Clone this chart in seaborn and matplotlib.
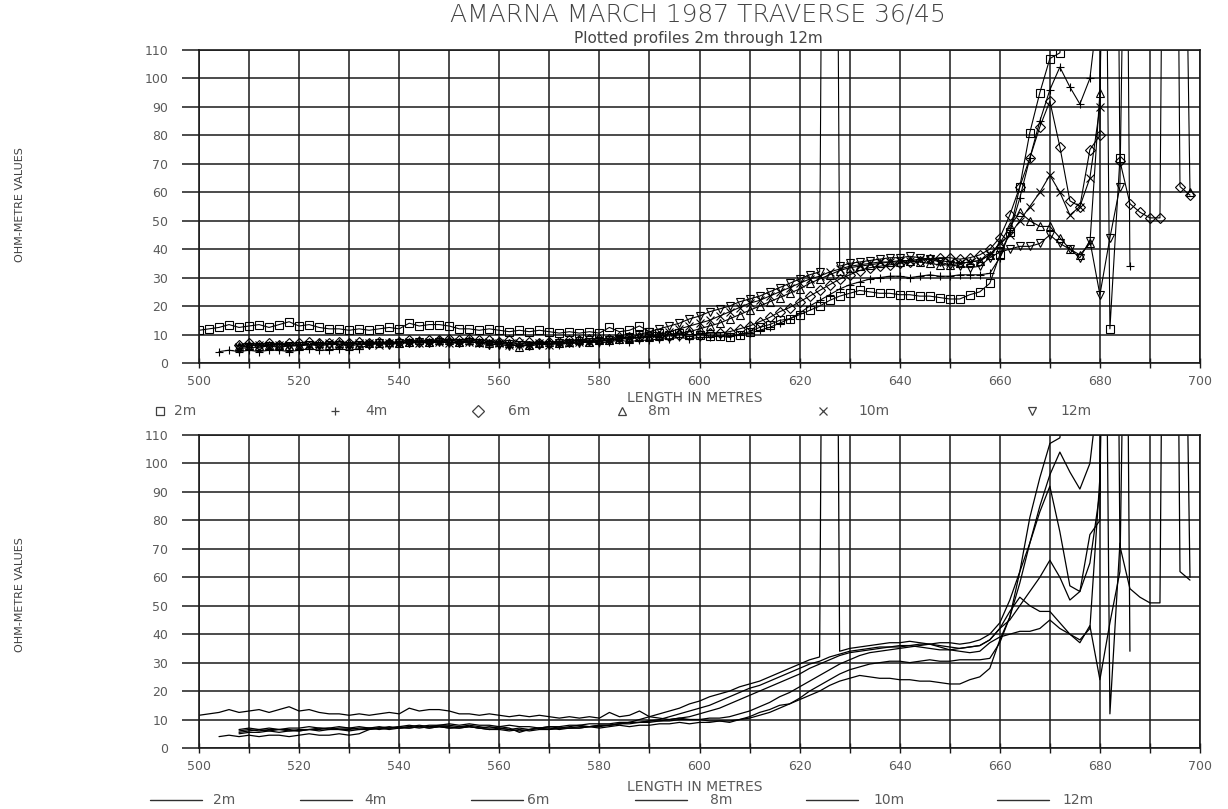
import numpy as np
import pandas as pd
import matplotlib
matplotlib.use("Agg")
import matplotlib.pyplot as plt
import seaborn as sns
from matplotlib.lines import Line2D

sns.set_theme(style="white")
plt.rcParams['font.family'] = ['DejaVu Sans']

# ---------------- text ----------------
TITLE = "AMARNA MARCH 1987 TRAVERSE 36/45"
SUBTITLE = "Plotted profiles 2m through 12m"
X_LABEL = "LENGTH IN METRES"
Y_LABEL = "OHM-METRE VALUES"
X_TICKS = [500, 520, 540, 560, 580, 600, 620, 640, 660, 680, 700]
Y_TICKS = [0, 10, 20, 30, 40, 50, 60, 70, 80, 90, 100, 110]
SERIES = ["2m", "4m", "6m", "8m", "10m", "12m"]
MARKERS = ["s", "+", "D", "^", "x", "v"]

# ---------------- data (sampled every STEP metres) ----------------
STEP = 2
start_2m = 500
vals_2m = [11.5, 12, 12.5, 13.5, 12.5, 13, 13.5, 12.5, 13.5, 14.5,
           13, 13.5, 12.5, 12, 12, 11.5, 12, 11.5, 12, 12.5,
           12, 14, 13, 13.5, 13.5, 13, 12, 12, 11.5, 12,
           11.5, 11, 11.5, 11, 11.5, 11, 10.5, 11, 10.5, 11,
           10.5, 12.5, 11, 11.5, 13, 11, 10.5, 10, 10.5, 10,
           10, 9.5, 9.5, 9, 10, 11, 12.5, 13.5, 15, 15.5,
           17, 18.5, 20, 22, 23.5, 24.5, 25.5, 25, 24.5, 24.5,
           24, 24, 23.5, 23.5, 23, 22.5, 22.5, 24, 25, 28,
           38, 46, 62, 81, 95, 107, 109, 140, 180, 260,
           400, 12, 72]

start_4m = 504
vals_4m = [4, 4.5, 4, 4.5, 4, 4.5, 4.5, 4, 4.5, 5,
           4.5, 4.5, 5, 4.5, 5, 6.5, 7, 7, 7.5, 7,
           7.5, 7, 7.5, 7.5, 7, 7.5, 7, 6.5, 7, 6.5,
           6, 6.5, 7, 7, 6.5, 7, 7, 7.5, 7, 7.5,
           8, 7.5, 8, 8, 8.5, 8.5, 9, 8.5, 9, 9,
           9.5, 9.5, 10, 10.5, 11.5, 12.5, 14, 15.5, 17.5, 20,
           22, 24, 26, 27.5, 28.5, 29.5, 30, 30.5, 30.5, 30,
           30.5, 31, 30.5, 30.5, 31, 31, 31, 31.5, 37, 46,
           58, 72, 85, 96, 104, 97, 91, 100, 130, 250,
           500, 34]

start_6m = 508
vals_6m = [6.5, 7, 6.5, 7, 6.5, 7, 7, 7.5, 7, 7,
           7.5, 7, 7.5, 7, 7.5, 7, 7.5, 8, 7.5, 8,
           8, 8.5, 8, 8.5, 8, 8, 7.5, 8, 7.5, 7.5,
           7, 7.5, 7.5, 8, 8, 8.5, 8.5, 8.5, 9, 9,
           9, 9.5, 9.5, 9.5, 10, 10, 10, 10.5, 10.5, 11,
           12, 13, 14.5, 16, 18, 19.5, 21.5, 23.5, 25.5, 27.5,
           29.5, 31, 32.5, 33.5, 34, 34.5, 35, 35.5, 36, 36.5,
           37, 37, 36.5, 37, 38, 40, 44, 52, 62, 72,
           83, 92, 76, 57, 55, 75, 80, 500, 71, 56,
           53, 51, 51, 500, 62, 59]

start_8m = 508
vals_8m = [6, 6.5, 6, 6.5, 6.5, 6, 6.5, 6.5, 7, 6.5,
           7, 7, 6.5, 7, 7, 7.5, 7, 7.5, 8, 7.5,
           8, 8, 7.5, 8, 7.5, 7, 7.5, 7, 5.5, 6.5,
           7, 7.5, 7, 7.5, 8, 7.5, 8, 8, 8.5, 8.5,
           9, 9, 9.5, 10, 10.5, 11, 12, 13, 14, 15.5,
           17, 18.5, 20, 21.5, 23, 24.5, 26, 28, 29.5, 31,
           32.5, 33.5, 34, 34.5, 35, 35.5, 35.5, 36, 35.5, 35,
           34.5, 34.5, 35, 35.5, 36, 38, 42, 48, 53, 50,
           48, 48, 44, 40, 38, 42, 95, 300, 160, 130,
           200, 400, 300, 250, 300, 60]

start_10m = 508
vals_10m = [5.5, 6, 6.5, 6, 6.5, 6.5, 6, 6.5, 6.5, 7,
            6.5, 6.5, 7, 7, 6.5, 7, 7, 7.5, 7, 7.5,
            7.5, 7, 7.5, 7.5, 7, 7.5, 7, 6.5, 7, 6.5,
            7, 6.5, 7, 7, 7.5, 7.5, 8, 8, 8.5, 9,
            9, 9.5, 10, 11, 12, 13, 14, 15, 16.5, 18,
            19.5, 21, 22, 23.5, 25, 26.5, 28, 29.5, 30.5, 32,
            33, 34, 34.5, 35, 35.5, 35.5, 36, 36, 36.5, 36.5,
            36, 35.5, 35, 35.5, 36, 38, 42, 45, 50, 55,
            60, 66, 60, 52, 55, 65, 90, 500, 300, 250]

start_12m = 508
vals_12m = [5, 5.5, 5.5, 6, 5.5, 6, 6, 6.5, 6, 6.5,
            6.5, 6, 6.5, 6.5, 7, 6.5, 7, 7, 7.5, 7,
            7.5, 7, 7, 7.5, 7, 6.5, 6.5, 6, 6.5, 6,
            6.5, 6.5, 7, 7, 7, 7.5, 7.5, 8, 8.5, 9,
            10, 11, 12, 13, 14, 15.5, 16.5, 18, 19, 20,
            21.5, 22.5, 23.5, 25, 26.5, 28, 29.5, 31, 32, 600,
            34, 35, 35.5, 36, 36.5, 37, 37, 37.5, 37, 36.5,
            35.5, 34.5, 34, 33.5, 34, 37, 39, 40, 41, 41,
            42, 45, 42, 40, 37, 43, 24, 44, 62, 300,
            500, 400]

STARTS = [start_2m, start_4m, start_6m, start_8m, start_10m, start_12m]
VALUES = [vals_2m, vals_4m, vals_6m, vals_8m, vals_10m, vals_12m]

frames = []
for name, st, vals in zip(SERIES, STARTS, VALUES):
    xs = st + STEP * np.arange(len(vals))
    frames.append(pd.DataFrame({"length": xs, "ohm": vals, "depth": name}))
df = pd.concat(frames, ignore_index=True)

# ---------------- figure ----------------
W, H = 1228, 809
fig = plt.figure(figsize=(W / 100, H / 100), dpi=100)
fig.patch.set_facecolor("white")

def fx(px):
    return px / W

def fy(py):
    return 1 - py / H

left, right = 199, 1200
ax_top = fig.add_axes([fx(left), fy(363), fx(right) - fx(left), fy(50) - fy(363)])
ax_bot = fig.add_axes([fx(left), fy(748), fx(right) - fx(left), fy(435) - fy(748)])

for name, mk in zip(SERIES, MARKERS):
    sub = df[df["depth"] == name]
    sns.lineplot(data=sub, x="length", y="ohm", color="black",
                 estimator=None, sort=False, legend=False, ax=ax_top,
                 lw=0.8, marker=mk, markersize=5.5, markeredgecolor="black",
                 markerfacecolor="none", markeredgewidth=0.8)
    sns.lineplot(data=sub, x="length", y="ohm", color="black",
                 estimator=None, sort=False, legend=False, ax=ax_bot, lw=0.9)

TXT = "#5a5a5a"
for ax in (ax_top, ax_bot):
    ax.set_xlim(500, 700)
    ax.set_ylim(0, 110)
    ax.set_xticks(X_TICKS)
    ax.set_xticks(np.arange(510, 700, 20), minor=True)
    ax.set_yticks(Y_TICKS)
    ax.set_xticklabels([str(t) for t in X_TICKS])
    ax.set_yticklabels([str(t) for t in Y_TICKS])
    ax.grid(True, which="both", color="#1a1a1a", lw=1.1)
    ax.set_axisbelow(True)
    ax.set_xlabel("")
    ax.set_ylabel("")
    for sp in ax.spines.values():
        sp.set_color("#1a1a1a")
        sp.set_linewidth(1.2)
    ax.tick_params(axis="y", which="major", direction="out", length=12, width=1.1,
                   color="#1a1a1a", labelsize=9, labelcolor=TXT, pad=10, left=True)
    ax.tick_params(axis="x", which="both", direction="inout", length=7, width=1.0,
                   color="#1a1a1a", labelsize=9, labelcolor=TXT, pad=5, bottom=True)
    ax.set_facecolor("white")

# titles
fig.text(fx(698), fy(15), TITLE, ha="center", va="center", fontsize=18,
         color="#454545", fontweight="light")
fig.text(fx(698), fy(38), SUBTITLE, ha="center", va="center", fontsize=11,
         color="#454545")

# y labels
for cy in (205, 595):
    fig.text(fx(20), fy(cy), Y_LABEL, rotation=90, ha="center", va="center",
             fontsize=8, color="#404040",
             family=["Liberation Sans Narrow", "DejaVu Sans"])

# x labels
fig.text(fx(695), fy(398), X_LABEL, ha="center", va="center", fontsize=10, color=TXT)
fig.text(fx(695), fy(787), X_LABEL, ha="center", va="center", fontsize=10, color=TXT)

# marker legend (top)
leg_top_mark = [160, 335, 478, 622, 823, 1032]
leg_top_text = [174, 365, 508, 648, 858, 1060]
for name, mk, mx, tx in zip(SERIES, MARKERS, leg_top_mark, leg_top_text):
    fig.add_artist(Line2D([fx(mx)], [fy(411)], transform=fig.transFigure,
                          marker=mk, markersize=6, markeredgecolor="#404040",
                          markerfacecolor="none", markeredgewidth=0.9, lw=0))
    fig.text(fx(tx), fy(411), name, ha="left", va="center", fontsize=10, color=TXT)

# line legend (bottom)
leg_bot_line = [150, 300, 471, 635, 806, 997]
leg_bot_text = [213, 364, 527, 710, 873, 1062]
for name, lx, tx in zip(SERIES, leg_bot_line, leg_bot_text):
    fig.add_artist(Line2D([fx(lx), fx(lx + 52)], [fy(800), fy(800)],
                          transform=fig.transFigure, color="#303030", lw=1.0))
    fig.text(fx(tx), fy(800), name, ha="left", va="center", fontsize=10, color=TXT)

fig.savefig("out.png", dpi=100, facecolor="white")
